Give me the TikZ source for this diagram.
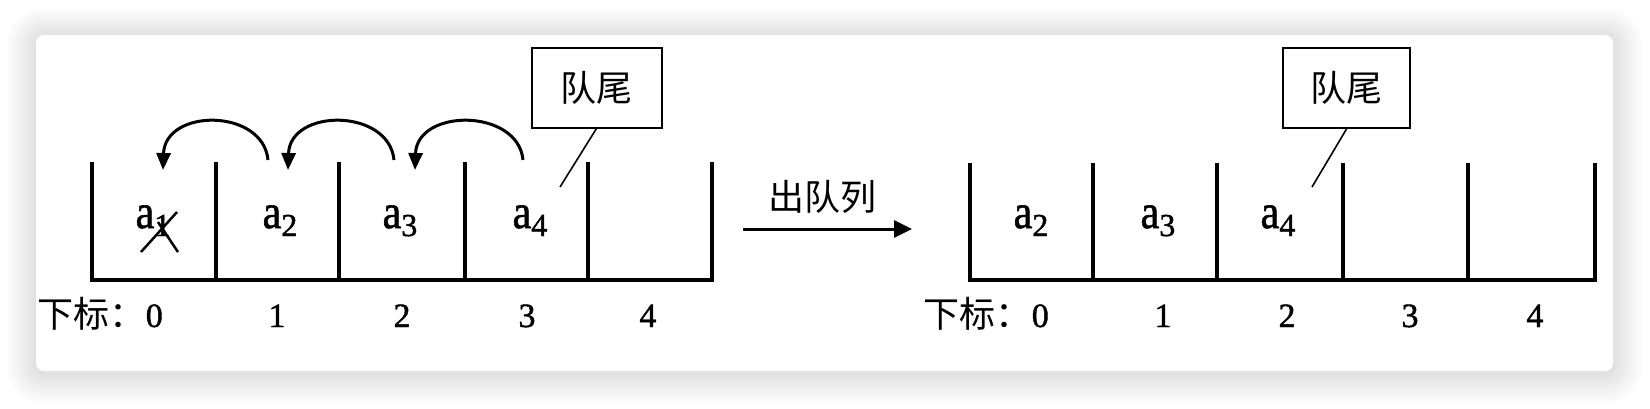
\documentclass[tikz,border=0pt]{standalone}
\usepackage{fontspec}
\usepackage{graphicx}
\setmainfont{Liberation Serif}
\newfontfamily\tms[FakeBold=1.3]{Liberation Serif}
\newfontfamily\cjk{Noto Sans CJK SC}
\usetikzlibrary{arrows.meta,calc}
\newcommand\elA[1]{{\tms\fontsize{42}{42}\selectfont\scalebox{1}[1.15]{a}}{\tms\fontsize{32}{32}\selectfont\raisebox{-8pt}{#1}}}
\begin{document}
\begin{tikzpicture}[x=1pt,y=-1pt,
  wall/.style={line width=4pt},
  boxnode/.style={draw, line width=2pt, minimum width=130pt, minimum height=80pt, inner sep=0pt, font=\cjk\fontsize{36}{36}\selectfont},
  cjklbl/.style={font=\cjk\fontsize{36}{36}\selectfont, inner sep=0pt},
  idx/.style={font=\tms\fontsize{34}{34}\selectfont, inner sep=0pt, anchor=base},
  elem/.style={inner sep=0pt, anchor=base},
  curv/.style={line width=3pt, -{Triangle[length=17pt,width=14pt]}},
  pointer/.style={line width=1.6pt},
  crossline/.style={line width=2.5pt}]
\useasboundingbox (0,0) rectangle (1650,408);
\fill[white] (0,0) rectangle (1650,408);
% card shadow
\foreach \i in {1,...,30}{
  \pgfmathsetmacro\rr{8+\i}
  \fill[black, opacity=0.005, rounded corners=\rr pt] (36-\i,37-\i) rectangle (1613+\i,374+\i);
}
\fill[white, rounded corners=8pt] (36,35) rectangle (1613,371);

% ---------- left queue ----------
\draw[wall] (92,162) -- (92,280) -- (712,280) -- (712,162);
\foreach \x in {216,339,465,588} \draw[wall] (\x,162) -- (\x,280);

\node[elem] (la1) at (153,228) {\elA{1}};
\node[elem] (la2) at (280,228) {\elA{2}};
\node[elem] (la3) at (400,228) {\elA{3}};
\node[elem] (la4) at (530,228) {\elA{4}};
\draw[crossline] (141,252) -- (177,212);
\draw[crossline] (158,222) -- (178,252);

\coordinate (s1) at (268,160); \coordinate (t1) at (163,170);
\coordinate (s2) at (394,160); \coordinate (t2) at (288,170);
\coordinate (s3) at (523,160); \coordinate (t3) at (415,170);
\draw[curv] (s1) .. controls ($(s1)+(-5,-52)$) and ($(t1)+(2,-62)$) .. (t1);
\draw[curv] (s2) .. controls ($(s2)+(-5,-52)$) and ($(t2)+(2,-62)$) .. (t2);
\draw[curv] (s3) .. controls ($(s3)+(-5,-52)$) and ($(t3)+(2,-62)$) .. (t3);

\node[boxnode] (boxL) at (596.5,87.5) {队尾};
\coordinate (tailL) at (560,187);
\draw[pointer] (boxL.south) -- (tailL);

\node[anchor=base east, inner sep=0pt] (lsub) at (163,327) {\fontsize{36}{36}\cjk 下标：\fontsize{34}{34}\tms 0};
\node[idx] (l1) at (277,327) {1};
\node[idx] (l2) at (402,327) {2};
\node[idx] (l3) at (527,327) {3};
\node[idx] (l4) at (648,327) {4};

% ---------- middle arrow ----------
\coordinate (ms) at (743,229);
\coordinate (me) at (912,229);
\draw[line width=3pt, -{Triangle[length=18pt,width=17pt]}] (ms) -- (me);
\node[cjklbl] (deq) at (822,197) {出队列};

% ---------- right queue ----------
\draw[wall] (970,163) -- (970,280) -- (1595,280) -- (1595,163);
\foreach \x in {1093,1217,1343,1468} \draw[wall] (\x,163) -- (\x,280);

\node[elem] (ra2) at (1031,228) {\elA{2}};
\node[elem] (ra3) at (1158,228) {\elA{3}};
\node[elem] (ra4) at (1278,228) {\elA{4}};

\node[boxnode, minimum width=127pt] (boxR) at (1346.5,88) {队尾};
\coordinate (tailR) at (1312,187);
\draw[pointer] (boxR.south) -- (tailR);

\node[anchor=base east, inner sep=0pt] (rsub) at (1049,327) {\fontsize{36}{36}\cjk 下标：\fontsize{34}{34}\tms 0};
\node[idx] (r1) at (1163,327) {1};
\node[idx] (r2) at (1287,327) {2};
\node[idx] (r3) at (1410,327) {3};
\node[idx] (r4) at (1535,327) {4};
\end{tikzpicture}
\end{document}
